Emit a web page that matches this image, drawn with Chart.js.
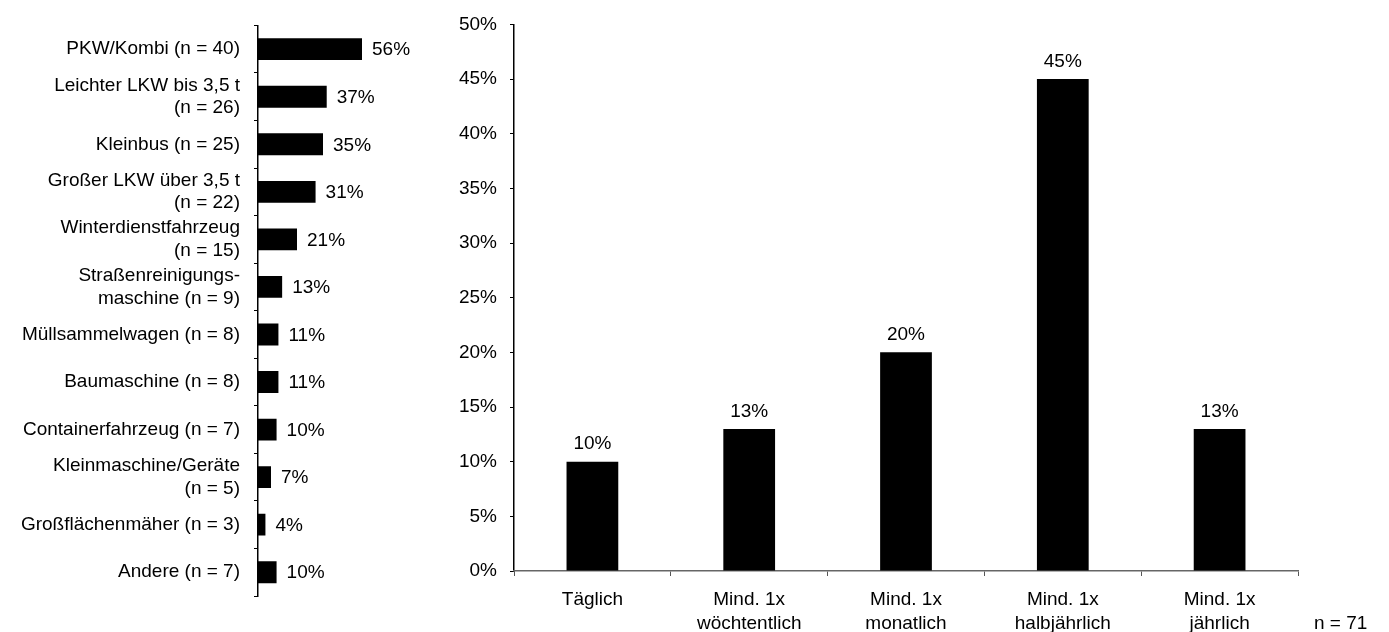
<!DOCTYPE html>
<html>
<head>
<meta charset="utf-8">
<script src="https://cdn.jsdelivr.net/npm/chart.js@4.4.1/dist/chart.umd.min.js"></script>
<style>
  html, body { margin: 0; padding: 0; background: #fff; overflow: hidden; }
  #wrap { position: relative; width: 1389px; height: 632px; }
  #vehicles { position: absolute; left: 0; top: 0; }
  #frequency { position: absolute; left: 440px; top: 0; }
</style>
</head>
<body>
<div id="wrap">
  <canvas id="vehicles" width="440" height="632"></canvas>
  <canvas id="frequency" width="949" height="632"></canvas>
</div>
<script>
// Fahrzeugarten (Anteil in %)
const vehicleLabels = [
  ['PKW/Kombi (n = 40)'],
  ['Leichter LKW bis 3,5 t', '(n = 26)'],
  ['Kleinbus (n = 25)'],
  ['Großer LKW über 3,5 t', '(n = 22)'],
  ['Winterdienstfahrzeug', '(n = 15)'],
  ['Straßenreinigungs-', 'maschine (n = 9)'],
  ['Müllsammelwagen (n = 8)'],
  ['Baumaschine (n = 8)'],
  ['Containerfahrzeug (n = 7)'],
  ['Kleinmaschine/Geräte', '(n = 5)'],
  ['Großflächenmäher (n = 3)'],
  ['Andere (n = 7)']
];
const vehicleShares = [56, 37, 35, 31, 21, 13, 11, 11, 10, 7, 4, 10];

// Häufigkeit (Anteil in %)
const frequencyLabels = [
  ['Täglich'],
  ['Mind. 1x', 'wöchtentlich'],
  ['Mind. 1x', 'monatlich'],
  ['Mind. 1x', 'halbjährlich'],
  ['Mind. 1x', 'jährlich']
];
const frequencyShares = [10, 13, 20, 45, 13];
const frequencyTicks = [0, 5, 10, 15, 20, 25, 30, 35, 40, 45, 50];
const sampleNote = 'n = 71';

const FONT_FAMILY = '"Liberation Sans", Arial, sans-serif';
const FONT_SIZE = 19;
Chart.defaults.font.family = FONT_FAMILY;
Chart.defaults.font.size = FONT_SIZE;
Chart.defaults.color = '#000';

// Percent labels next to / above each bar
const valueLabels = {
  id: 'valueLabels',
  afterDatasetsDraw(chart, args, opts) {
    const ctx = chart.ctx;
    const meta = chart.getDatasetMeta(0);
    const data = chart.data.datasets[0].data;
    ctx.save();
    ctx.font = FONT_SIZE + 'px ' + FONT_FAMILY;
    ctx.fillStyle = '#000';
    meta.data.forEach((bar, i) => {
      const txt = data[i] + '%';
      if (opts.horizontal) {
        ctx.textAlign = 'left';
        ctx.textBaseline = 'middle';
        ctx.fillText(txt, bar.x + opts.gap, bar.y + 1);
      } else {
        ctx.textAlign = 'center';
        ctx.textBaseline = 'bottom';
        ctx.fillText(txt, bar.x, bar.y - opts.gap);
      }
    });
    ctx.restore();
  }
};

// Sample size note beside the category axis
const sampleText = {
  id: 'sampleText',
  afterDraw(chart, args, opts) {
    if (!opts.text) return;
    const ctx = chart.ctx;
    const area = chart.chartArea;
    ctx.save();
    ctx.font = FONT_SIZE + 'px ' + FONT_FAMILY;
    ctx.fillStyle = '#000';
    ctx.textAlign = 'left';
    ctx.textBaseline = 'middle';
    ctx.fillText(opts.text, area.right + opts.dx, area.bottom + opts.dy);
    ctx.restore();
  }
};

new Chart(document.getElementById('vehicles'), {
  type: 'bar',
  data: {
    labels: vehicleLabels,
    datasets: [{
      data: vehicleShares,
      backgroundColor: '#000',
      borderWidth: 0,
      barPercentage: 0.46,
      categoryPercentage: 1.0
    }]
  },
  plugins: [valueLabels],
  options: {
    indexAxis: 'y',
    responsive: false,
    animation: false,
    devicePixelRatio: 1,
    layout: { padding: { top: 22, bottom: 36, left: 0, right: 0 } },
    plugins: {
      legend: { display: false },
      tooltip: { enabled: false },
      valueLabels: { horizontal: true, gap: 10 }
    },
    scales: {
      x: { display: false, min: 0, max: 98 },
      y: {
        afterFit(scale) { scale.width = 258; },
        grid: { offset: true, drawOnChartArea: false, drawTicks: true, tickLength: 4, color: '#000', lineWidth: 1 },
        border: { display: true, color: '#000', width: 1.5 },
        ticks: { padding: 14, autoSkip: false, color: '#000', font: { size: FONT_SIZE, lineHeight: 1.2 } }
      }
    }
  }
});

new Chart(document.getElementById('frequency'), {
  type: 'bar',
  data: {
    labels: frequencyLabels,
    datasets: [{
      data: frequencyShares,
      backgroundColor: '#000',
      borderWidth: 0,
      barPercentage: 0.33,
      categoryPercentage: 1.0
    }]
  },
  plugins: [valueLabels, sampleText],
  options: {
    responsive: false,
    animation: false,
    devicePixelRatio: 1,
    layout: { padding: { top: 21, right: 91, left: 0, bottom: 0 } },
    plugins: {
      legend: { display: false },
      tooltip: { enabled: false },
      valueLabels: { horizontal: false, gap: 8 },
      sampleText: { text: sampleNote, dx: 16, dy: 53 }
    },
    scales: {
      y: {
        min: frequencyTicks[0],
        max: frequencyTicks[frequencyTicks.length - 1],
        afterFit(scale) { scale.width = 74; },
        afterBuildTicks(scale) { scale.ticks = frequencyTicks.map(v => ({ value: v })); },
        grid: { drawOnChartArea: false, drawTicks: true, tickLength: 4, color: '#000' },
        border: { display: true, color: '#000', width: 1.5 },
        ticks: { padding: 13, color: '#000', callback: v => v + '%' }
      },
      x: {
        afterFit(scale) { scale.height = 61; },
        grid: { offset: true, drawOnChartArea: false, drawTicks: true, tickLength: 5, color: '#555' },
        border: { display: true, color: '#666', width: 1.5 },
        ticks: { padding: 12, color: '#000', autoSkip: false, maxRotation: 0, font: { size: FONT_SIZE, lineHeight: 1.25 } }
      }
    }
  }
});
</script>
</body>
</html>
